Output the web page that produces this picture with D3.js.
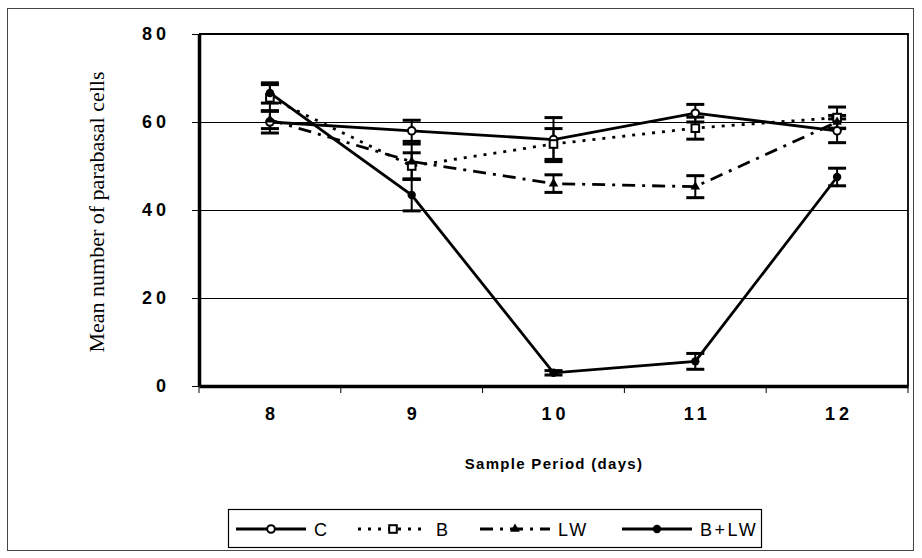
<!DOCTYPE html>
<html>
<head>
<meta charset="utf-8">
<script src="https://cdn.jsdelivr.net/npm/d3@7"></script>
<style>
  body { margin:0; background:#fff; }
  svg { display:block; }
</style>
</head>
<body>
<div id="chart"></div>
<script>
// values
var days = [8, 9, 10, 11, 12]
var yTicks = [0, 20, 40, 60, 80]

var cVals   = [60, 58, 56, 62, 58]
var cErr    = [2.5, 2.4, 5, 2, 2.7]
var bVals   = [65.5, 50, 55, 58.6, 61]
var bErr    = [3, 3, 3.5, 2.5, 2.4]
var lwVals  = [60.5, 51, 46, 45.3, 60]
var lwErr   = [2, 4, 2, 2.5, 1.5]
var blwVals = [66.6, 43.4, 3, 5.6, 47.5]
var blwErr  = [2.3, 3.6, 0.5, 1.8, 2]

var seriesNames = ["C", "B", "LW", "B+LW"]

initChart()
function initChart(){
  var width = 922
  var height = 558
  var plot = {left:199, right:908, top:34, bottom:386}
  var sans = "'Liberation Sans', Arial, sans-serif"

  var svg = d3.select("#chart").append("svg")
    .attr("width", width)
    .attr("height", height)

  // outer frame
  svg.append("rect")
    .attr("x", 7.5).attr("y", 8.5)
    .attr("width", 906).attr("height", 542)
    .attr("fill", "none").attr("stroke", "#444").attr("stroke-width", 1)

  var x = d3.scaleBand().domain(days).range([plot.left, plot.right])
  var y = d3.scaleLinear().domain([0, 80]).range([plot.bottom, plot.top])

  // grid lines
  svg.append("g").selectAll("line")
    .data([20, 40, 60])
    .enter().append("line")
    .attr("x1", plot.left).attr("x2", plot.right)
    .attr("y1", function(d){ return Math.round(y(d))+0.5 }).attr("y2", function(d){ return Math.round(y(d))+0.5 })
    .attr("stroke", "#000").attr("stroke-width", 1)

  // top and right border
  svg.append("path")
    .attr("d", "M"+plot.left+","+y(80)+"H"+plot.right+"V"+plot.bottom)
    .attr("fill", "none").attr("stroke", "#000").attr("stroke-width", 1.8)

  // y axis
  var yAxis = svg.append("g")
    .attr("transform", "translate("+plot.left+",0)")
    .call(d3.axisLeft(y).tickValues(yTicks).tickSize(7).tickPadding(22).tickSizeOuter(0))
  yAxis.select(".domain").attr("stroke-width", 3.5)
  yAxis.selectAll(".tick line").attr("stroke-width", 1)
  yAxis.selectAll("text")
    .style("font-family", sans).style("font-weight", "bold")
    .style("font-size", "18px").style("letter-spacing", "4px").attr("fill", "#000")

  // x axis
  var xAxis = svg.append("g")
    .attr("transform", "translate(0,"+plot.bottom+")")
    .call(d3.axisBottom(x).tickSize(0).tickPadding(21).tickSizeOuter(0))
  xAxis.select(".domain").attr("stroke-width", 3.5)
  xAxis.selectAll("text")
    .style("font-family", sans).style("font-weight", "bold")
    .style("font-size", "18px").style("letter-spacing", "4px").attr("fill", "#000")
    .attr("dx", 2)
  var bounds = days.map(function(d){ return x(d) }).concat([plot.right])
  xAxis.selectAll(".bound")
    .data(bounds)
    .enter().append("line")
    .attr("class", "bound")
    .attr("x1", function(d){ return d }).attr("x2", function(d){ return d })
    .attr("y1", 0).attr("y2", 7)
    .attr("stroke", "#000").attr("stroke-width", 1)

  // axis titles
  svg.append("text")
    .attr("x", 554).attr("y", 469)
    .attr("text-anchor", "middle")
    .style("font-family", sans)
    .style("font-size", "15px").style("font-weight", "bold").style("letter-spacing", "1.3px")
    .text("Sample Period (days)")

  svg.append("text")
    .attr("transform", "translate(104,212) rotate(-90)")
    .attr("text-anchor", "middle")
    .style("font-family", "'Liberation Serif', 'Times New Roman', serif")
    .style("font-size", "22px")
    .text("Mean number of parabasal cells")

  var series = [
    {name:seriesNames[0], vals:cVals, err:cErr, dash:null, marker:"openCircle"},
    {name:seriesNames[1], vals:bVals, err:bErr, dash:"3,7", marker:"openSquare"},
    {name:seriesNames[2], vals:lwVals, err:lwErr, dash:"13,7,3,7", marker:"triangle"},
    {name:seriesNames[3], vals:blwVals, err:blwErr, dash:null, marker:"dot"}
  ]

  var cx = function(i){ return x(days[i]) + x.bandwidth()/2 }

  var line = d3.line()
    .x(function(d, i){ return cx(i) })
    .y(function(d){ return y(d) })

  // error bars
  series.forEach(function(s){
    var g = svg.append("g")
    s.vals.forEach(function(v, i){
      var top = y(v + s.err[i]), bot = y(v - s.err[i])
      g.append("line").attr("x1", cx(i)).attr("x2", cx(i)).attr("y1", top).attr("y2", bot)
        .attr("stroke", "#000").attr("stroke-width", 2)
      g.append("line").attr("x1", cx(i)-9).attr("x2", cx(i)+9).attr("y1", top).attr("y2", top)
        .attr("stroke", "#000").attr("stroke-width", 3)
      g.append("line").attr("x1", cx(i)-9).attr("x2", cx(i)+9).attr("y1", bot).attr("y2", bot)
        .attr("stroke", "#000").attr("stroke-width", 3)
    })
  })

  // lines
  series.forEach(function(s){
    svg.append("path")
      .attr("d", line(s.vals))
      .attr("fill", "none").attr("stroke", "#000").attr("stroke-width", 2.8)
      .attr("stroke-dasharray", s.dash)
  })

  function drawMarker(g, type, px, py){
    if(type == "openCircle"){
      g.append("circle").attr("cx", px).attr("cy", py).attr("r", 3.8)
        .attr("fill", "#fff").attr("stroke", "#000").attr("stroke-width", 2)
    } else if(type == "openSquare"){
      g.append("rect").attr("x", px-3.8).attr("y", py-3.8).attr("width", 7.6).attr("height", 7.6)
        .attr("fill", "#fff").attr("stroke", "#000").attr("stroke-width", 2)
    } else if(type == "triangle"){
      g.append("path").attr("d", d3.symbol().type(d3.symbolTriangle).size(40)())
        .attr("transform", "translate("+px+","+py+")").attr("fill", "#000")
    } else {
      g.append("circle").attr("cx", px).attr("cy", py).attr("r", 4.2)
        .attr("fill", "#000")
    }
  }

  // markers
  series.forEach(function(s){
    var g = svg.append("g")
    s.vals.forEach(function(v, i){ drawMarker(g, s.marker, cx(i), y(v)) })
  })

  // legend
  svg.append("rect")
    .attr("x", 228.5).attr("y", 509.5).attr("width", 533).attr("height", 38)
    .attr("fill", "#fff").attr("stroke", "#000").attr("stroke-width", 1.2)

  var legendX = [236, 358, 480, 622]
  series.forEach(function(s, i){
    var lx = legendX[i], ly = 529
    var g = svg.append("g")
    g.append("line").attr("x1", lx).attr("x2", lx+70).attr("y1", ly).attr("y2", ly)
      .attr("stroke", "#000").attr("stroke-width", 2.8).attr("stroke-dasharray", s.dash)
    drawMarker(g, s.marker, lx+35, ly)
    g.append("text")
      .attr("x", lx+78).attr("y", ly+7)
      .style("font-family", sans)
      .style("font-size", "18px").style("letter-spacing", "2.5px")
      .text(s.name)
  })
}
</script>
</body>
</html>
